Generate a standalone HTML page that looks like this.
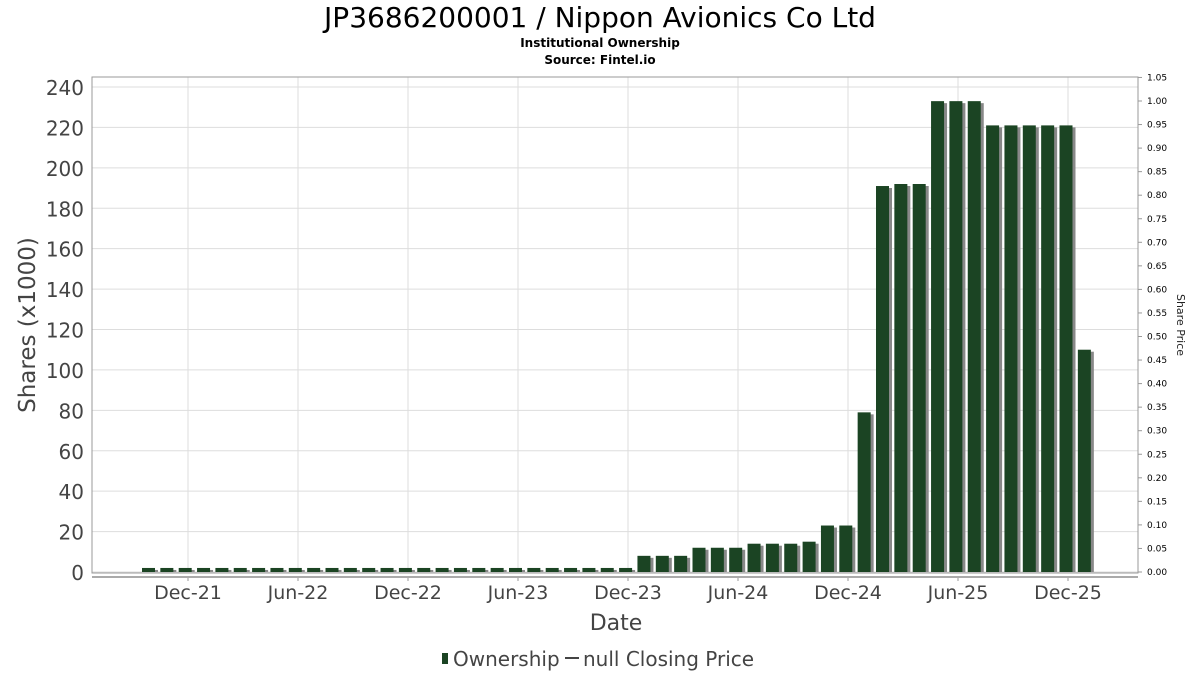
<!DOCTYPE html>
<html><head><meta charset="utf-8"><style>
body{margin:0;background:#fff;font-family:"DejaVu Sans","Liberation Sans",sans-serif}
</style></head><body>
<svg id="c" width="1200" height="675" xmlns="http://www.w3.org/2000/svg" font-family="DejaVu Sans, Liberation Sans, sans-serif">
<text x="600" y="27" text-anchor="middle" font-size="28" fill="#000">JP3686200001 / Nippon Avionics Co Ltd</text>
<text x="600" y="47" text-anchor="middle" font-size="12" font-weight="bold">Institutional Ownership</text>
<text x="600" y="64" text-anchor="middle" font-size="12" font-weight="bold">Source: Fintel.io</text>
<g id="grid"></g>
<g id="bars"></g>
<rect x="92" y="77" width="1046" height="496" fill="none" stroke="#999"/>
<g id="yaxis"></g><g id="y2axis"></g><g id="xaxis"></g>
<text transform="translate(35,325) rotate(-90)" text-anchor="middle" font-size="23" fill="#444">Shares (x1000)</text>
<text transform="translate(1177,325) rotate(90)" text-anchor="middle" font-size="11" fill="#222">Share Price</text>
<text x="616" y="630" text-anchor="middle" font-size="22" fill="#444">Date</text>
<g>
<rect x="442" y="653" width="6" height="11" fill="#1b4423"/>
<text x="453" y="666" font-size="20" fill="#444">Ownership</text>
<line x1="565" y1="658" x2="579" y2="658" stroke="#444" stroke-width="2"/>
<text x="583" y="666" font-size="20" fill="#444">null Closing Price</text>
</g>
</svg>
<script>
const values=[2,2,2,2,2,2,2,2,2,2,2,2,2,2,2,2,2,2,2,2,2,2,2,2,2,2,2,8,8,8,12,12,12,14,14,14,15,23,23,79,191,192,192,233,233,233,221,221,221,221,221,110];
const yTicks=[0,20,40,60,80,100,120,140,160,180,200,220,240];
const y2Ticks=["0.00","0.05","0.10","0.15","0.20","0.25","0.30","0.35","0.40","0.45","0.50","0.55","0.60","0.65","0.70","0.75","0.80","0.85","0.90","0.95","1.00","1.05"];
const xLabels=["Dec-21","Jun-22","Dec-22","Jun-23","Dec-23","Jun-24","Dec-24","Jun-25","Dec-25"];
const NS="http://www.w3.org/2000/svg";
const y=v=>572-v*(485/240);
const y2=v=>572-v*(471/1.0);
const xb=i=>142+i*18.35;
const xt=k=>188+k*110;
function mk(t,a,p){const e=document.createElementNS(NS,t);for(const k in a)e.setAttribute(k,a[k]);p.appendChild(e);return e;}
const g=document.getElementById('grid'),b=document.getElementById('bars'),ya=document.getElementById('yaxis'),y2a=document.getElementById('y2axis'),xa=document.getElementById('xaxis');
yTicks.forEach(v=>{mk('line',{x1:92,x2:1138,y1:y(v),y2:y(v),stroke:'#ddd'},g);
const t=mk('text',{x:84,y:y(v)+8,'text-anchor':'end','font-size':20,fill:'#444'},ya);


t.textContent=v;});
y2Ticks.forEach(s=>{const t=mk('text',{x:1147,y:y2(+s)+3,'font-size':9,fill:'#000'},y2a);


t.textContent=s;mk('line',{x1:1138,x2:1142,y1:y2(+s),y2:y2(+s),stroke:'#999'},y2a);});
xLabels.forEach((s,k)=>{const x=xt(k);
mk('line',{x1:x,x2:x,y1:77,y2:573,stroke:'#ddd'},g);
mk('line',{x1:x,x2:x,y1:577,y2:581,stroke:'#999'},xa);
const t=mk('text',{x:x,y:599,'text-anchor':'middle','font-size':19,fill:'#444'},xa);


t.textContent=s;});
mk('line',{x1:92,x2:1138,y1:577,y2:577,stroke:'#aaa','stroke-width':2},xa);
values.forEach((v,i)=>{const x=xb(i),top=y(v);
mk('rect',{x:x+3,y:top+2,width:13,height:572-top-2,fill:'#888'},b);
const r=mk('rect',{x:x,y:top,width:13,height:572-top,fill:'#1b4423'},b);

});
</script>
</body></html>
